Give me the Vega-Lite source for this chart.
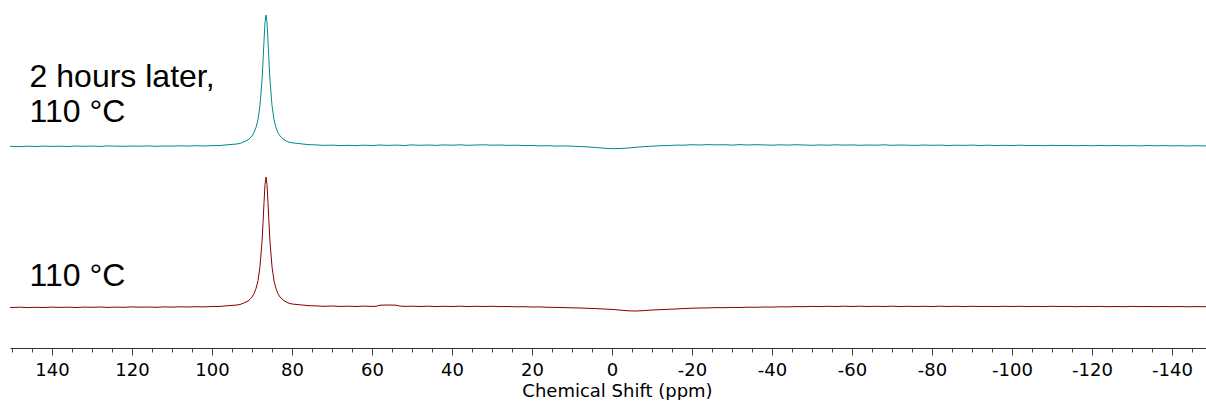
{
  "$schema": "https://vega.github.io/schema/vega-lite/v6.json",
  "padding": {"left": 10, "top": 0, "right": 0, "bottom": 0},
  "spacing": 0,
  "background": "white",
  "config": {"view": {"stroke": null}, "font": "DejaVu Sans"},
  "datasets": {
    "top": [
      {"ppm":150.5,"i":-0.3},{"ppm":148,"i":-0.6},{"ppm":146,"i":-0.2},{"ppm":144,"i":-0.5},{"ppm":142,"i":-0.1},{"ppm":140,"i":-0.4},{"ppm":138,"i":-0.2},{"ppm":136,"i":-0.5},{"ppm":134,"i":0.0},{"ppm":132,"i":-0.3},{"ppm":130,"i":-0.1},{"ppm":128,"i":-0.4},{"ppm":126,"i":0.1},{"ppm":124,"i":-0.2},{"ppm":122,"i":-0.3},{"ppm":120,"i":0.0},{"ppm":118,"i":-0.2},{"ppm":116,"i":0.1},{"ppm":114,"i":-0.3},{"ppm":112,"i":0.0},{"ppm":110,"i":-0.1},{"ppm":108,"i":0.2},{"ppm":106,"i":-0.1},{"ppm":104,"i":0.3},{"ppm":102,"i":0.0},{"ppm":100,"i":0.4},{"ppm":98,"i":0.5},{"ppm":96,"i":1.3},{"ppm":94,"i":1.9},{"ppm":93,"i":2.6},{"ppm":92,"i":4.2},{"ppm":91.5,"i":5.2},{"ppm":91,"i":6.1},{"ppm":90.5,"i":7.8},{"ppm":90,"i":10.0},{"ppm":89.5,"i":13.4},{"ppm":89,"i":18.6},{"ppm":88.5,"i":26.5},{"ppm":88,"i":40.8},{"ppm":87.5,"i":65.8},{"ppm":87.25,"i":84.3},{"ppm":87,"i":105.2},{"ppm":86.75,"i":123.5},{"ppm":86.5,"i":131},{"ppm":86.25,"i":123.4},{"ppm":86,"i":105.0},{"ppm":85.75,"i":84.0},{"ppm":85.5,"i":65.5},{"ppm":85,"i":40.6},{"ppm":84.5,"i":26.3},{"ppm":84,"i":18.3},{"ppm":83.5,"i":13.2},{"ppm":83,"i":10.1},{"ppm":82.5,"i":8.0},{"ppm":82,"i":6.4},{"ppm":81,"i":4.1},{"ppm":80,"i":3.2},{"ppm":78,"i":2.3},{"ppm":76,"i":1.4},{"ppm":74,"i":1.1},{"ppm":72,"i":0.6},{"ppm":70,"i":0.9},{"ppm":68,"i":0.4},{"ppm":66,"i":0.7},{"ppm":64,"i":0.3},{"ppm":62,"i":0.8},{"ppm":60,"i":0.5},{"ppm":58,"i":1.0},{"ppm":56,"i":0.6},{"ppm":54,"i":0.9},{"ppm":52,"i":0.5},{"ppm":50,"i":1.1},{"ppm":48,"i":0.7},{"ppm":46,"i":1.0},{"ppm":44,"i":0.6},{"ppm":42,"i":1.1},{"ppm":40,"i":0.8},{"ppm":38,"i":1.2},{"ppm":36,"i":0.7},{"ppm":34,"i":1.0},{"ppm":32,"i":1.2},{"ppm":30,"i":0.8},{"ppm":28,"i":1.0},{"ppm":26,"i":0.6},{"ppm":24,"i":0.8},{"ppm":22,"i":0.4},{"ppm":20,"i":0.5},{"ppm":18,"i":0.1},{"ppm":16,"i":0.3},{"ppm":14,"i":-0.1},{"ppm":12,"i":0.1},{"ppm":10,"i":-0.2},{"ppm":8,"i":-0.6},{"ppm":6,"i":-0.9},{"ppm":4,"i":-1.5},{"ppm":2,"i":-2.2},{"ppm":0,"i":-2.7},{"ppm":-2,"i":-2.5},{"ppm":-4,"i":-2.0},{"ppm":-6,"i":-1.3},{"ppm":-8,"i":-0.6},{"ppm":-10,"i":-0.2},{"ppm":-12,"i":0.3},{"ppm":-14,"i":0.4},{"ppm":-16,"i":0.9},{"ppm":-18,"i":0.8},{"ppm":-20,"i":1.3},{"ppm":-22,"i":1.0},{"ppm":-24,"i":1.4},{"ppm":-26,"i":1.1},{"ppm":-28,"i":1.3},{"ppm":-30,"i":0.9},{"ppm":-32,"i":1.4},{"ppm":-34,"i":1.0},{"ppm":-36,"i":1.3},{"ppm":-38,"i":1.1},{"ppm":-40,"i":0.8},{"ppm":-42,"i":1.2},{"ppm":-44,"i":0.9},{"ppm":-46,"i":1.3},{"ppm":-48,"i":1.0},{"ppm":-50,"i":0.7},{"ppm":-52,"i":1.1},{"ppm":-54,"i":0.8},{"ppm":-56,"i":1.2},{"ppm":-58,"i":0.9},{"ppm":-60,"i":1.1},{"ppm":-62,"i":0.7},{"ppm":-64,"i":1.0},{"ppm":-66,"i":0.8},{"ppm":-68,"i":1.2},{"ppm":-70,"i":0.7},{"ppm":-72,"i":1.0},{"ppm":-74,"i":0.8},{"ppm":-76,"i":0.6},{"ppm":-78,"i":1.0},{"ppm":-80,"i":0.7},{"ppm":-82,"i":0.9},{"ppm":-84,"i":0.5},{"ppm":-86,"i":0.8},{"ppm":-88,"i":0.6},{"ppm":-90,"i":0.9},{"ppm":-92,"i":0.5},{"ppm":-94,"i":0.8},{"ppm":-96,"i":0.4},{"ppm":-98,"i":0.7},{"ppm":-100,"i":0.5},{"ppm":-102,"i":0.8},{"ppm":-104,"i":0.4},{"ppm":-106,"i":0.6},{"ppm":-108,"i":0.3},{"ppm":-110,"i":0.7},{"ppm":-112,"i":0.4},{"ppm":-114,"i":0.6},{"ppm":-116,"i":0.3},{"ppm":-118,"i":0.5},{"ppm":-120,"i":0.2},{"ppm":-122,"i":0.6},{"ppm":-124,"i":0.3},{"ppm":-126,"i":0.5},{"ppm":-128,"i":0.2},{"ppm":-130,"i":0.4},{"ppm":-132,"i":0.1},{"ppm":-134,"i":0.5},{"ppm":-136,"i":0.2},{"ppm":-138,"i":0.4},{"ppm":-140,"i":0.1},{"ppm":-142,"i":0.3},{"ppm":-144,"i":0.0},{"ppm":-146,"i":0.3},{"ppm":-148.5,"i":0.1}
    ],
    "bottom": [
      {"ppm":150.5,"i":-0.5},{"ppm":148,"i":-0.2},{"ppm":146,"i":-0.6},{"ppm":144,"i":-0.3},{"ppm":142,"i":-0.5},{"ppm":140,"i":-0.1},{"ppm":138,"i":-0.4},{"ppm":136,"i":-0.2},{"ppm":134,"i":-0.5},{"ppm":132,"i":-0.1},{"ppm":130,"i":-0.3},{"ppm":128,"i":0.0},{"ppm":126,"i":-0.4},{"ppm":124,"i":-0.1},{"ppm":122,"i":-0.3},{"ppm":120,"i":0.1},{"ppm":118,"i":-0.2},{"ppm":116,"i":0.0},{"ppm":114,"i":-0.3},{"ppm":112,"i":0.1},{"ppm":110,"i":-0.1},{"ppm":108,"i":0.2},{"ppm":106,"i":0.0},{"ppm":104,"i":0.3},{"ppm":102,"i":0.1},{"ppm":100,"i":0.5},{"ppm":98,"i":0.6},{"ppm":96,"i":1.3},{"ppm":94,"i":1.9},{"ppm":93,"i":2.5},{"ppm":92,"i":4.1},{"ppm":91.5,"i":5.1},{"ppm":91,"i":6.0},{"ppm":90.5,"i":7.7},{"ppm":90,"i":9.9},{"ppm":89.5,"i":13.3},{"ppm":89,"i":18.4},{"ppm":88.5,"i":26.3},{"ppm":88,"i":40.5},{"ppm":87.5,"i":65.2},{"ppm":87.25,"i":83.6},{"ppm":87,"i":104.4},{"ppm":86.75,"i":122.6},{"ppm":86.5,"i":130},{"ppm":86.25,"i":122.5},{"ppm":86,"i":104.2},{"ppm":85.75,"i":83.4},{"ppm":85.5,"i":65.0},{"ppm":85,"i":40.3},{"ppm":84.5,"i":26.1},{"ppm":84,"i":18.2},{"ppm":83.5,"i":13.1},{"ppm":83,"i":10.0},{"ppm":82.5,"i":7.9},{"ppm":82,"i":6.3},{"ppm":81,"i":4.1},{"ppm":80,"i":3.0},{"ppm":78,"i":2.2},{"ppm":76,"i":1.4},{"ppm":74,"i":1.1},{"ppm":72,"i":0.7},{"ppm":70,"i":1.0},{"ppm":68,"i":0.6},{"ppm":66,"i":0.8},{"ppm":64,"i":0.5},{"ppm":62,"i":0.9},{"ppm":60,"i":0.6},{"ppm":59,"i":0.7},{"ppm":58,"i":1.8},{"ppm":56,"i":2.0},{"ppm":54,"i":1.8},{"ppm":53,"i":0.9},{"ppm":52,"i":0.6},{"ppm":50,"i":0.8},{"ppm":48,"i":0.5},{"ppm":46,"i":0.8},{"ppm":44,"i":0.4},{"ppm":42,"i":0.7},{"ppm":40,"i":0.5},{"ppm":38,"i":0.8},{"ppm":36,"i":0.4},{"ppm":34,"i":0.7},{"ppm":32,"i":0.5},{"ppm":30,"i":0.7},{"ppm":28,"i":0.4},{"ppm":26,"i":0.5},{"ppm":24,"i":0.2},{"ppm":22,"i":0.3},{"ppm":20,"i":0.0},{"ppm":18,"i":0.1},{"ppm":16,"i":-0.3},{"ppm":14,"i":-0.4},{"ppm":12,"i":-0.6},{"ppm":10,"i":-0.8},{"ppm":8,"i":-1.0},{"ppm":6,"i":-1.3},{"ppm":4,"i":-1.6},{"ppm":2,"i":-2.0},{"ppm":0,"i":-2.4},{"ppm":-2,"i":-3.1},{"ppm":-4,"i":-3.8},{"ppm":-6,"i":-4.0},{"ppm":-8,"i":-3.6},{"ppm":-10,"i":-3.0},{"ppm":-12,"i":-2.7},{"ppm":-14,"i":-2.3},{"ppm":-16,"i":-2.0},{"ppm":-18,"i":-1.5},{"ppm":-20,"i":-1.2},{"ppm":-22,"i":-1.0},{"ppm":-24,"i":-0.9},{"ppm":-26,"i":-0.6},{"ppm":-28,"i":-0.7},{"ppm":-30,"i":-0.4},{"ppm":-32,"i":-0.5},{"ppm":-34,"i":-0.2},{"ppm":-36,"i":-0.3},{"ppm":-38,"i":0.0},{"ppm":-40,"i":-0.1},{"ppm":-42,"i":0.2},{"ppm":-44,"i":0.1},{"ppm":-46,"i":0.4},{"ppm":-48,"i":0.3},{"ppm":-50,"i":0.6},{"ppm":-52,"i":0.4},{"ppm":-54,"i":0.7},{"ppm":-56,"i":0.5},{"ppm":-58,"i":0.8},{"ppm":-60,"i":0.5},{"ppm":-62,"i":0.8},{"ppm":-64,"i":0.5},{"ppm":-66,"i":0.7},{"ppm":-68,"i":0.5},{"ppm":-70,"i":0.8},{"ppm":-72,"i":0.4},{"ppm":-74,"i":0.7},{"ppm":-76,"i":0.5},{"ppm":-78,"i":0.7},{"ppm":-80,"i":0.4},{"ppm":-82,"i":0.8},{"ppm":-84,"i":0.5},{"ppm":-86,"i":0.7},{"ppm":-88,"i":0.4},{"ppm":-90,"i":0.7},{"ppm":-92,"i":0.5},{"ppm":-94,"i":0.6},{"ppm":-96,"i":0.4},{"ppm":-98,"i":0.7},{"ppm":-100,"i":0.5},{"ppm":-102,"i":0.7},{"ppm":-104,"i":0.4},{"ppm":-106,"i":0.6},{"ppm":-108,"i":0.4},{"ppm":-110,"i":0.7},{"ppm":-112,"i":0.5},{"ppm":-114,"i":0.6},{"ppm":-116,"i":0.3},{"ppm":-118,"i":0.6},{"ppm":-120,"i":0.4},{"ppm":-122,"i":0.6},{"ppm":-124,"i":0.3},{"ppm":-126,"i":0.5},{"ppm":-128,"i":0.3},{"ppm":-130,"i":0.6},{"ppm":-132,"i":0.4},{"ppm":-134,"i":0.5},{"ppm":-136,"i":0.3},{"ppm":-138,"i":0.5},{"ppm":-140,"i":0.3},{"ppm":-142,"i":0.5},{"ppm":-144,"i":0.2},{"ppm":-146,"i":0.4},{"ppm":-148.5,"i":0.3}
    ],
    "labelsTop": [
      {"ppm": 145.6, "i": 59, "t": "2 hours later,"},
      {"ppm": 145.6, "i": 24, "t": "110 °C"}
    ],
    "labelsBottom": [
      {"ppm": 145.6, "i": 21, "t": "110 °C"}
    ]
  },
  "vconcat": [
    {
      "width": 1196,
      "height": 161,
      "layer": [
        {
          "data": {"name": "top"},
          "mark": {"type": "line", "color": "#008b8b", "strokeWidth": 1, "clip": true},
          "encoding": {
            "x": {"field": "ppm", "type": "quantitative", "scale": {"domain": [150.5, -148.5], "nice": false, "zero": false}, "axis": null},
            "y": {"field": "i", "type": "quantitative", "scale": {"domain": [-15, 146], "nice": false, "zero": false}, "axis": null}
          }
        },
        {
          "data": {"name": "labelsTop"},
          "mark": {"type": "text", "align": "left", "baseline": "alphabetic", "font": "Liberation Sans", "fontSize": 32, "color": "black"},
          "encoding": {
            "x": {"field": "ppm", "type": "quantitative"},
            "y": {"field": "i", "type": "quantitative"},
            "text": {"field": "t"}
          }
        }
      ]
    },
    {
      "width": 1196,
      "height": 187,
      "resolve": {"axis": {"x": "independent"}},
      "layer": [
        {
          "data": {"name": "bottom"},
          "mark": {"type": "line", "color": "#8b0000", "strokeWidth": 1, "clip": true},
          "encoding": {
            "x": {"field": "ppm", "type": "quantitative", "scale": {"domain": [150.5, -148.5], "nice": false, "zero": false},
              "axis": {"orient": "bottom", "values": [140,120,100,80,60,40,20,0,-20,-40,-60,-80,-100,-120,-140], "labelExpr": "'' + datum.value", "grid": false, "domainColor": "#333333", "domainWidth": 1, "tickColor": "#444444", "tickSize": 7, "labelFont": "DejaVu Sans", "labelFontSize": 18, "labelColor": "black", "labelPadding": 6, "labelDx": 4, "labelFlush": false, "labelOverlap": false,
                "title": "Chemical Shift (ppm)", "titleFont": "DejaVu Sans", "titleFontSize": 18, "titleFontWeight": "normal", "titleColor": "black", "titlePadding": 3, "titleX": 607}},
            "y": {"field": "i", "type": "quantitative", "scale": {"domain": [-41, 146], "nice": false, "zero": false}, "axis": null}
          }
        },
        {
          "data": {"name": "labelsBottom"},
          "mark": {"type": "text", "align": "left", "baseline": "alphabetic", "font": "Liberation Sans", "fontSize": 32, "color": "black"},
          "encoding": {
            "x": {"field": "ppm", "type": "quantitative",
              "axis": {"orient": "bottom", "values": [150,145,135,130,125,115,110,105,95,90,85,75,70,65,55,50,45,35,30,25,15,10,5,-5,-10,-15,-25,-30,-35,-45,-50,-55,-65,-70,-75,-85,-90,-95,-105,-110,-115,-125,-130,-135,-145], "grid": false, "domain": false, "labels": false, "tickColor": "#444444", "tickSize": 4, "title": null}},
            "y": {"field": "i", "type": "quantitative"},
            "text": {"field": "t"}
          }
        }
      ]
    }
  ]
}
